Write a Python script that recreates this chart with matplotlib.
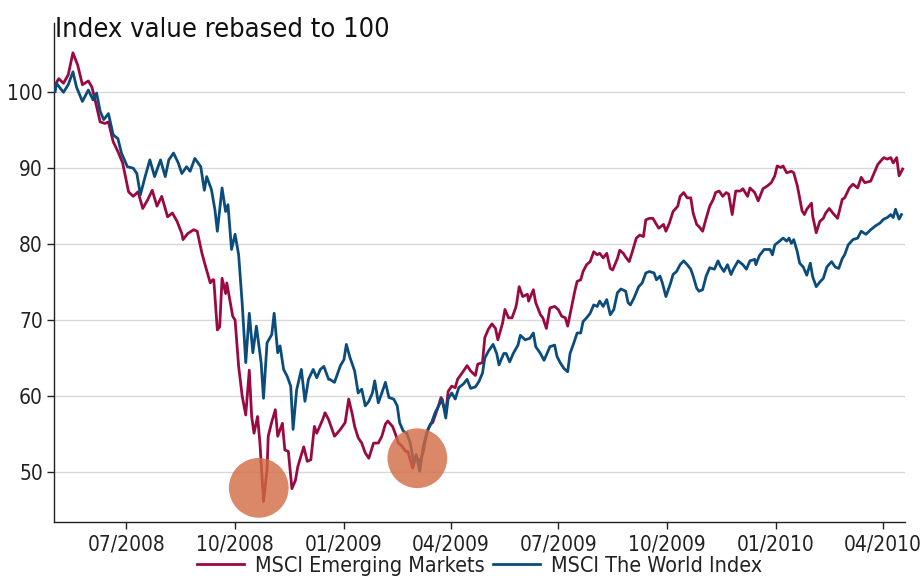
import matplotlib
matplotlib.use("Agg")
import matplotlib.pyplot as plt
import matplotlib.dates as mdates
import pandas as pd

# ---------------- data ----------------
start_date = "2008-05-02"

em_days = [0, 3, 7, 11, 15, 19, 23, 28, 31, 34, 38, 42, 45, 49, 53, 57, 62, 66, 70, 74,
           78, 82, 86, 90, 95, 99, 103, 107, 108, 112, 117, 120, 124, 127, 131, 133, 134, 137, 139, 141,
           144, 145, 150, 152, 155, 158, 161, 164, 166, 168, 171, 173, 176, 179, 180, 183, 186, 188, 192, 194,
           197, 200, 203, 205, 210, 213, 216, 219, 221, 226, 228, 231, 236, 241, 245, 248, 251, 253, 256, 259,
           262, 265, 269, 273, 276, 279, 281, 285, 287, 290, 293, 296, 298, 302, 305, 308, 311, 314, 317, 319,
           323, 326, 330, 332, 335, 338, 340, 345, 348, 351, 355, 357, 361, 363, 366, 369, 372, 374, 378, 380,
           383, 386, 389, 390, 392, 395, 399, 400, 404, 406, 410, 412, 415, 418, 422, 425, 428, 431, 433, 437,
           439, 441, 444, 446, 449, 452, 455, 458, 460, 463, 466, 469, 471, 475, 477, 480, 482, 485, 488, 491,
           494, 497, 499, 502, 505, 508, 510, 514, 516, 519, 522, 526, 528, 531, 534, 537, 539, 542, 544, 547,
           550, 553, 556, 558, 561, 564, 567, 569, 572, 575, 579, 581, 585, 587, 591, 594, 598, 602, 605, 608,
           610, 613, 615, 618, 622, 624, 627, 629, 631, 633, 635, 639, 640, 643, 646, 649, 651, 654, 657, 661,
           665, 667, 671, 674, 678, 681, 684, 689, 692, 695, 700, 703, 706, 708, 711, 713, 716]
em_vals = [101.0, 101.8, 101.2, 102.3, 105.2, 103.6, 101.0, 101.5, 100.7, 98.8, 96.1, 95.9, 96.1, 93.5, 92.2, 90.7, 86.9, 86.3, 86.9, 84.7,
           85.8, 87.1, 85.0, 86.3, 83.6, 84.1, 83.0, 81.4, 80.6, 81.4, 81.9, 81.7, 78.8, 77.1, 74.9, 75.3, 75.3, 68.7, 69.1, 75.5,
           73.5, 74.9, 70.5, 70.0, 63.9, 60.0, 57.5, 63.4, 57.3, 55.1, 57.3, 53.8, 46.1, 50.3, 54.7, 56.6, 58.2, 54.7, 56.4, 52.9,
           52.7, 47.8, 48.9, 50.7, 53.3, 51.4, 51.6, 56.0, 55.1, 56.9, 57.8, 56.9, 54.7, 55.6, 56.5, 59.6, 57.6, 56.0, 54.5, 53.8,
           52.5, 51.8, 53.8, 53.8, 54.7, 56.3, 56.7, 56.0, 55.2, 53.8, 53.4, 52.7, 52.7, 50.5, 52.1, 51.2, 52.7, 55.2, 56.3, 56.5,
           58.3, 59.8, 57.8, 60.6, 61.3, 61.1, 62.2, 63.3, 64.0, 63.3, 62.7, 64.2, 64.4, 67.7, 68.8, 69.5, 68.9, 67.4, 69.6, 71.4,
           70.3, 70.3, 71.6, 72.3, 74.4, 73.1, 73.4, 72.5, 74.0, 72.3, 70.7, 70.3, 68.9, 71.6, 71.8, 71.4, 70.5, 70.3, 69.2, 72.3,
           73.8, 75.1, 75.3, 76.4, 77.3, 77.7, 79.0, 78.6, 78.8, 78.2, 78.8, 76.8, 76.6, 78.1, 79.2, 78.8, 78.3, 77.7, 79.2, 80.8,
           81.2, 81.0, 83.2, 83.4, 83.4, 82.6, 82.1, 82.6, 81.7, 82.8, 84.3, 85.0, 86.3, 86.8, 86.1, 86.1, 84.1, 82.6, 82.3, 81.7,
           83.4, 85.0, 85.9, 86.8, 87.0, 86.3, 86.8, 86.6, 83.9, 87.0, 87.0, 87.3, 86.3, 87.4, 86.8, 85.7, 87.3, 87.7, 88.1, 89.0,
           90.3, 90.1, 90.3, 89.4, 89.6, 89.4, 87.7, 86.1, 84.4, 83.9, 84.6, 85.4, 83.7, 81.5, 83.0, 83.4, 84.1, 84.7, 84.1, 83.4,
           85.9, 86.1, 87.4, 87.9, 87.4, 88.8, 88.1, 88.3, 89.4, 90.5, 91.4, 91.2, 91.4, 90.7, 91.4, 89.0, 89.9]

world_days = [0, 1, 7, 11, 15, 18, 23, 28, 32, 35, 38, 41, 45, 49, 53, 56, 61, 66, 69, 72,
              76, 80, 84, 89, 93, 96, 100, 104, 107, 111, 114, 118, 123, 126, 128, 132, 135, 137, 141, 144,
              146, 149, 152, 155, 158, 161, 164, 167, 170, 174, 176, 179, 183, 185, 188, 190, 193, 196, 199, 201,
              204, 208, 211, 214, 218, 221, 224, 227, 231, 232, 236, 241, 244, 246, 249, 253, 256, 259, 262, 265,
              268, 270, 273, 276, 279, 282, 286, 289, 291, 294, 297, 300, 303, 305, 308, 311, 315, 318, 321, 324,
              327, 330, 332, 335, 338, 341, 345, 348, 351, 355, 358, 361, 363, 366, 370, 373, 375, 379, 381, 384,
              387, 391, 393, 397, 401, 404, 406, 410, 413, 415, 418, 422, 424, 427, 430, 433, 435, 438, 441, 444,
              446, 449, 452, 455, 458, 460, 463, 466, 469, 472, 475, 478, 482, 484, 486, 489, 493, 496, 499, 502,
              506, 508, 511, 513, 516, 520, 522, 525, 528, 531, 534, 537, 539, 542, 544, 547, 550, 553, 557, 560,
              562, 565, 568, 571, 573, 577, 581, 584, 587, 591, 592, 595, 599, 604, 606, 608, 612, 615, 618, 620,
              622, 624, 627, 629, 632, 635, 638, 640, 643, 646, 649, 652, 656, 659, 662, 665, 667, 670, 674, 678,
              681, 685, 689, 693, 697, 700, 703, 706, 708, 710, 713, 715]
world_vals = [100.1, 101.2, 100.0, 101.0, 102.7, 100.7, 98.8, 100.3, 99.0, 99.9, 97.5, 96.4, 97.2, 94.4, 93.9, 92.0, 90.2, 90.0, 89.3, 86.5,
              88.9, 91.1, 88.9, 91.1, 88.9, 91.1, 92.0, 90.7, 89.3, 90.2, 89.6, 91.3, 90.2, 87.1, 88.9, 87.2, 84.5, 81.7, 87.4, 84.3,
              85.2, 79.3, 81.3, 78.6, 72.2, 64.4, 70.9, 65.7, 69.2, 64.4, 59.7, 67.0, 68.1, 70.9, 65.7, 66.6, 63.5, 62.6, 61.3, 55.6,
              60.8, 63.5, 59.3, 62.2, 63.5, 62.4, 63.5, 63.9, 62.2, 62.2, 61.8, 64.0, 64.8, 66.8, 65.1, 63.3, 60.4, 60.9, 58.7, 59.3,
              60.4, 62.0, 59.1, 60.4, 61.8, 59.8, 59.6, 58.7, 56.5, 55.4, 55.1, 53.8, 51.2, 52.3, 50.1, 53.4, 55.6, 56.5, 57.8, 58.7,
              59.6, 57.1, 59.6, 60.4, 59.6, 61.1, 61.6, 62.2, 61.0, 61.2, 61.9, 63.0, 65.0, 65.9, 66.8, 65.6, 64.1, 65.6, 65.6, 64.5,
              65.6, 66.7, 68.0, 67.4, 67.6, 68.3, 66.5, 65.6, 64.7, 65.4, 66.5, 66.7, 65.2, 64.3, 63.6, 63.2, 65.6, 66.9, 68.3, 68.3,
              69.8, 70.3, 70.9, 72.0, 71.8, 72.5, 71.8, 72.7, 70.7, 71.4, 73.6, 74.1, 73.8, 72.3, 72.0, 72.9, 74.4, 74.9, 76.2, 76.4,
              76.2, 75.3, 75.8, 74.9, 73.1, 74.9, 76.0, 76.4, 77.3, 77.8, 77.3, 76.7, 75.8, 74.2, 73.8, 74.0, 75.8, 76.9, 76.7, 77.8,
              77.1, 76.4, 77.3, 76.0, 76.7, 77.8, 77.3, 76.7, 77.8, 78.0, 77.3, 78.5, 79.3, 79.3, 78.6, 79.9, 80.4, 80.8, 80.4, 80.8,
              80.1, 80.6, 79.0, 77.5, 77.0, 75.9, 77.5, 75.7, 74.4, 75.0, 75.5, 77.0, 77.7, 77.0, 76.8, 78.1, 78.6, 79.9, 80.6, 80.8,
              81.7, 81.3, 81.9, 82.4, 82.8, 83.3, 83.5, 83.9, 83.5, 84.6, 83.3, 83.9]

highlight_days = [172, 306]
highlight_vals = [47.9, 51.8]

y_ticks = [50, 60, 70, 80, 90, 100]
series_names = ["MSCI Emerging Markets", "MSCI The World Index"]
title_text = "Index value rebased to 100"

# ---------------- plot ----------------
plt.rcParams["font.family"] = ["DejaVu Sans"]
plt.rcParams["font.stretch"] = "condensed"

start = pd.Timestamp(start_date)
em_dates = start + pd.to_timedelta(em_days, unit="D")
world_dates = start + pd.to_timedelta(world_days, unit="D")
hl_dates = start + pd.to_timedelta(highlight_days, unit="D")

fig = plt.figure(figsize=(9.23, 5.81), dpi=100)
ax = fig.add_axes([0.0585, 0.1015, 0.922, 0.8585])

em_color = "#990A43"
world_color = "#0B4C7C"
ax.plot(em_dates, em_vals, color=em_color, lw=2.0, label=series_names[0], zorder=3)
ax.plot(world_dates, world_vals, color=world_color, lw=2.0, label=series_names[1], zorder=3)

ax.scatter(hl_dates, highlight_vals, s=1850, color="#D16B42", alpha=0.8,
           edgecolors="none", zorder=4)

ax.set_xlim(start - pd.Timedelta(days=1), start + pd.Timedelta(days=718))
ax.set_ylim(43.4, 109.1)
ax.set_yticks(y_ticks)
ax.yaxis.grid(True, color="#d8d8d8", lw=1.0)
ax.set_axisbelow(True)

ax.xaxis.set_major_locator(mdates.MonthLocator(bymonth=[1, 4, 7, 10]))
ax.xaxis.set_major_formatter(mdates.DateFormatter("%m/%Y"))

for s in ["top", "right"]:
    ax.spines[s].set_visible(False)
for s in ["left", "bottom"]:
    ax.spines[s].set_color("#222222")
    ax.spines[s].set_linewidth(1.0)

ax.tick_params(axis="both", labelsize=15, length=5, width=1, color="#222222",
               labelcolor="#222222")
ax.tick_params(axis="y", pad=3)
ax.tick_params(axis="x", pad=4)

fig.text(55 / 923, 1 - 37 / 581, title_text, fontsize=19.5, color="#111111",
         ha="left", va="baseline")

leg = ax.legend(loc="upper center", bbox_to_anchor=(0.5, -0.068), ncol=2,
                frameon=False, fontsize=15.5, handlelength=2.2, handletextpad=0.5,
                columnspacing=0.4, borderaxespad=0, borderpad=0.0)
for t in leg.get_texts():
    t.set_color("#222222")

fig.savefig("out.png", dpi=100)
